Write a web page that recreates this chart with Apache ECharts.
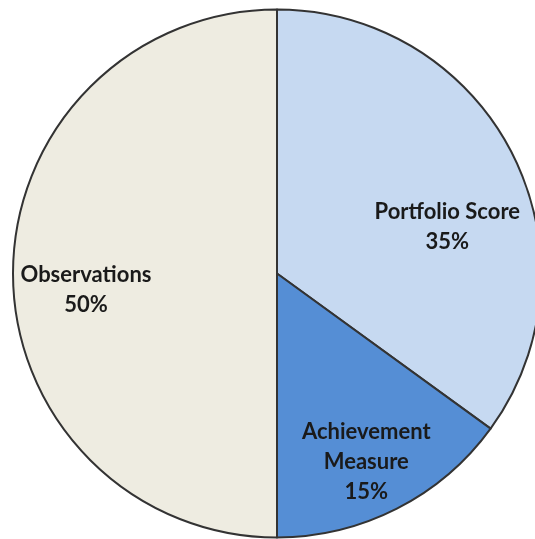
<!DOCTYPE html>
<html>
<head>
<meta charset="utf-8">
<script src="https://cdn.jsdelivr.net/npm/echarts@6/dist/echarts.min.js"></script>
<style>
  html, body { margin: 0; padding: 0; background: #fff; }
  #chart { width: 535px; height: 539px; }
</style>
</head>
<body>
<div id="chart"></div>
<script>
// slice names and shares, clockwise from 12 o'clock
var names = ['Portfolio Score', 'Achievement\nMeasure', 'Observations'];
var shares = [35, 15, 50];

var colors = ['#C6D9F1', '#558ED5', '#EEECE1'];
// nudges so labels sit where the original puts them
var labelOffsets = [[50, 15], [28, 68], [-56, 16]];

var chart = echarts.init(document.getElementById('chart'));

chart.setOption({
  animation: false,
  series: [
    {
      type: 'pie',
      center: [277, 273.5],
      radius: 264,
      startAngle: 90,
      clockwise: true,
      silent: true,
      itemStyle: {
        borderColor: '#333333',
        borderWidth: 2
      },
      label: {
        show: true,
        position: 'inside',
        formatter: '{b}\n{c}%',
        color: '#1a1a1a',
        fontFamily: 'Lato',
        fontWeight: 'bold',
        fontSize: 22,
        lineHeight: 30,
        align: 'center'
      },
      labelLine: { show: false },
      data: names.map(function (n, i) {
        return {
          name: n,
          value: shares[i],
          itemStyle: { color: colors[i] },
          label: { offset: labelOffsets[i] }
        }
      })
    }
  ]
});
</script>
</body>
</html>
